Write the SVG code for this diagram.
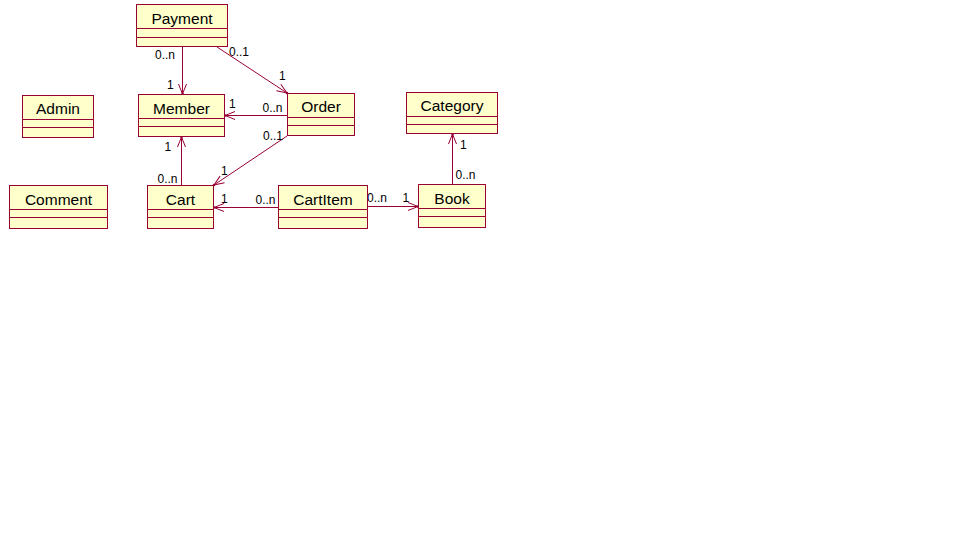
<svg xmlns="http://www.w3.org/2000/svg" width="960" height="540" viewBox="0 0 960 540">
<style>
.box{fill:#FFFFCC;stroke:#990033;stroke-width:1}
.div{stroke:#990033;stroke-width:1}
.name{font-family:"Liberation Sans",Arial,sans-serif;font-size:15.5px;fill:#000;text-anchor:middle}
.lbl{font-family:"Liberation Sans",Arial,sans-serif;font-size:12px;fill:#000}
.conn{stroke:#990033;stroke-width:1;fill:none;marker-end:url(#open)}
</style>
<defs>
<marker id="open" markerUnits="userSpaceOnUse" viewBox="-1 -1 13 11" refX="10" refY="4" markerWidth="13" markerHeight="11" orient="auto" overflow="visible">
<path d="M0,0 L10,4 L0,8" fill="none" stroke="#990033" stroke-width="1"/>
<circle cx="10" cy="4" r="1.3" fill="#990033"/>
</marker>
</defs>
<rect width="960" height="540" fill="#fff"/>
<g id="connectors">
<line class="conn" x1="182.5" y1="47" x2="182.5" y2="94"/>
<line class="conn" x1="217" y1="47" x2="287" y2="93"/>
<line class="conn" x1="287" y1="115.5" x2="225" y2="115.5"/>
<line class="conn" x1="287" y1="136" x2="214" y2="185"/>
<line class="conn" x1="181.5" y1="185" x2="181.5" y2="137"/>
<line class="conn" x1="278" y1="207.5" x2="214" y2="207.5"/>
<line class="conn" x1="368" y1="206.5" x2="418" y2="206.5"/>
<line class="conn" x1="452.5" y1="184" x2="452.5" y2="134"/>
<text class="lbl" x="155" y="59">0..n</text>
<text class="lbl" x="167" y="89">1</text>
<text class="lbl" x="229" y="55.5">0..1</text>
<text class="lbl" x="279" y="80">1</text>
<text class="lbl" x="229" y="108">1</text>
<text class="lbl" x="262.5" y="112">0..n</text>
<text class="lbl" x="263" y="140">0..1</text>
<text class="lbl" x="221" y="175">1</text>
<text class="lbl" x="164.5" y="151">1</text>
<text class="lbl" x="157.5" y="183">0..n</text>
<text class="lbl" x="221" y="203">1</text>
<text class="lbl" x="255.5" y="204">0..n</text>
<text class="lbl" x="367" y="201.5">0..n</text>
<text class="lbl" x="402.5" y="201.5">1</text>
<text class="lbl" x="460" y="149">1</text>
<text class="lbl" x="455.5" y="179">0..n</text>
</g>
<g id="Payment">
<rect class="box" x="136.5" y="4.5" width="91" height="42"/>
<line class="div" x1="136.5" y1="28.5" x2="227.5" y2="28.5"/>
<line class="div" x1="136.5" y1="37.5" x2="227.5" y2="37.5"/>
<text class="name" x="182" y="24">Payment</text>
</g>
<g id="Member">
<rect class="box" x="138.5" y="94.5" width="86" height="42"/>
<line class="div" x1="138.5" y1="118.5" x2="224.5" y2="118.5"/>
<line class="div" x1="138.5" y1="126.5" x2="224.5" y2="126.5"/>
<text class="name" x="181.5" y="114">Member</text>
</g>
<g id="Order">
<rect class="box" x="287.5" y="93.5" width="67" height="42"/>
<line class="div" x1="287.5" y1="117.5" x2="354.5" y2="117.5"/>
<line class="div" x1="287.5" y1="125.5" x2="354.5" y2="125.5"/>
<text class="name" x="321" y="111.5">Order</text>
</g>
<g id="Category">
<rect class="box" x="406.5" y="92.5" width="91" height="41"/>
<line class="div" x1="406.5" y1="116.5" x2="497.5" y2="116.5"/>
<line class="div" x1="406.5" y1="124.5" x2="497.5" y2="124.5"/>
<text class="name" x="452" y="111">Category</text>
</g>
<g id="Admin">
<rect class="box" x="22.5" y="95.5" width="71" height="42"/>
<line class="div" x1="22.5" y1="119.5" x2="93.5" y2="119.5"/>
<line class="div" x1="22.5" y1="127.5" x2="93.5" y2="127.5"/>
<text class="name" x="58" y="114">Admin</text>
</g>
<g id="Comment">
<rect class="box" x="9.5" y="185.5" width="98" height="43"/>
<line class="div" x1="9.5" y1="209.5" x2="107.5" y2="209.5"/>
<line class="div" x1="9.5" y1="217.5" x2="107.5" y2="217.5"/>
<text class="name" x="58.5" y="204.5">Comment</text>
</g>
<g id="Cart">
<rect class="box" x="147.5" y="185.5" width="66" height="43"/>
<line class="div" x1="147.5" y1="209.5" x2="213.5" y2="209.5"/>
<line class="div" x1="147.5" y1="217.5" x2="213.5" y2="217.5"/>
<text class="name" x="180.5" y="205">Cart</text>
</g>
<g id="CartItem">
<rect class="box" x="278.5" y="185.5" width="89" height="43"/>
<line class="div" x1="278.5" y1="209.5" x2="367.5" y2="209.5"/>
<line class="div" x1="278.5" y1="217.5" x2="367.5" y2="217.5"/>
<text class="name" x="323" y="205">CartItem</text>
</g>
<g id="Book">
<rect class="box" x="418.5" y="184.5" width="67" height="43"/>
<line class="div" x1="418.5" y1="208.5" x2="485.5" y2="208.5"/>
<line class="div" x1="418.5" y1="216.5" x2="485.5" y2="216.5"/>
<text class="name" x="452" y="203.5">Book</text>
</g>
</svg>
